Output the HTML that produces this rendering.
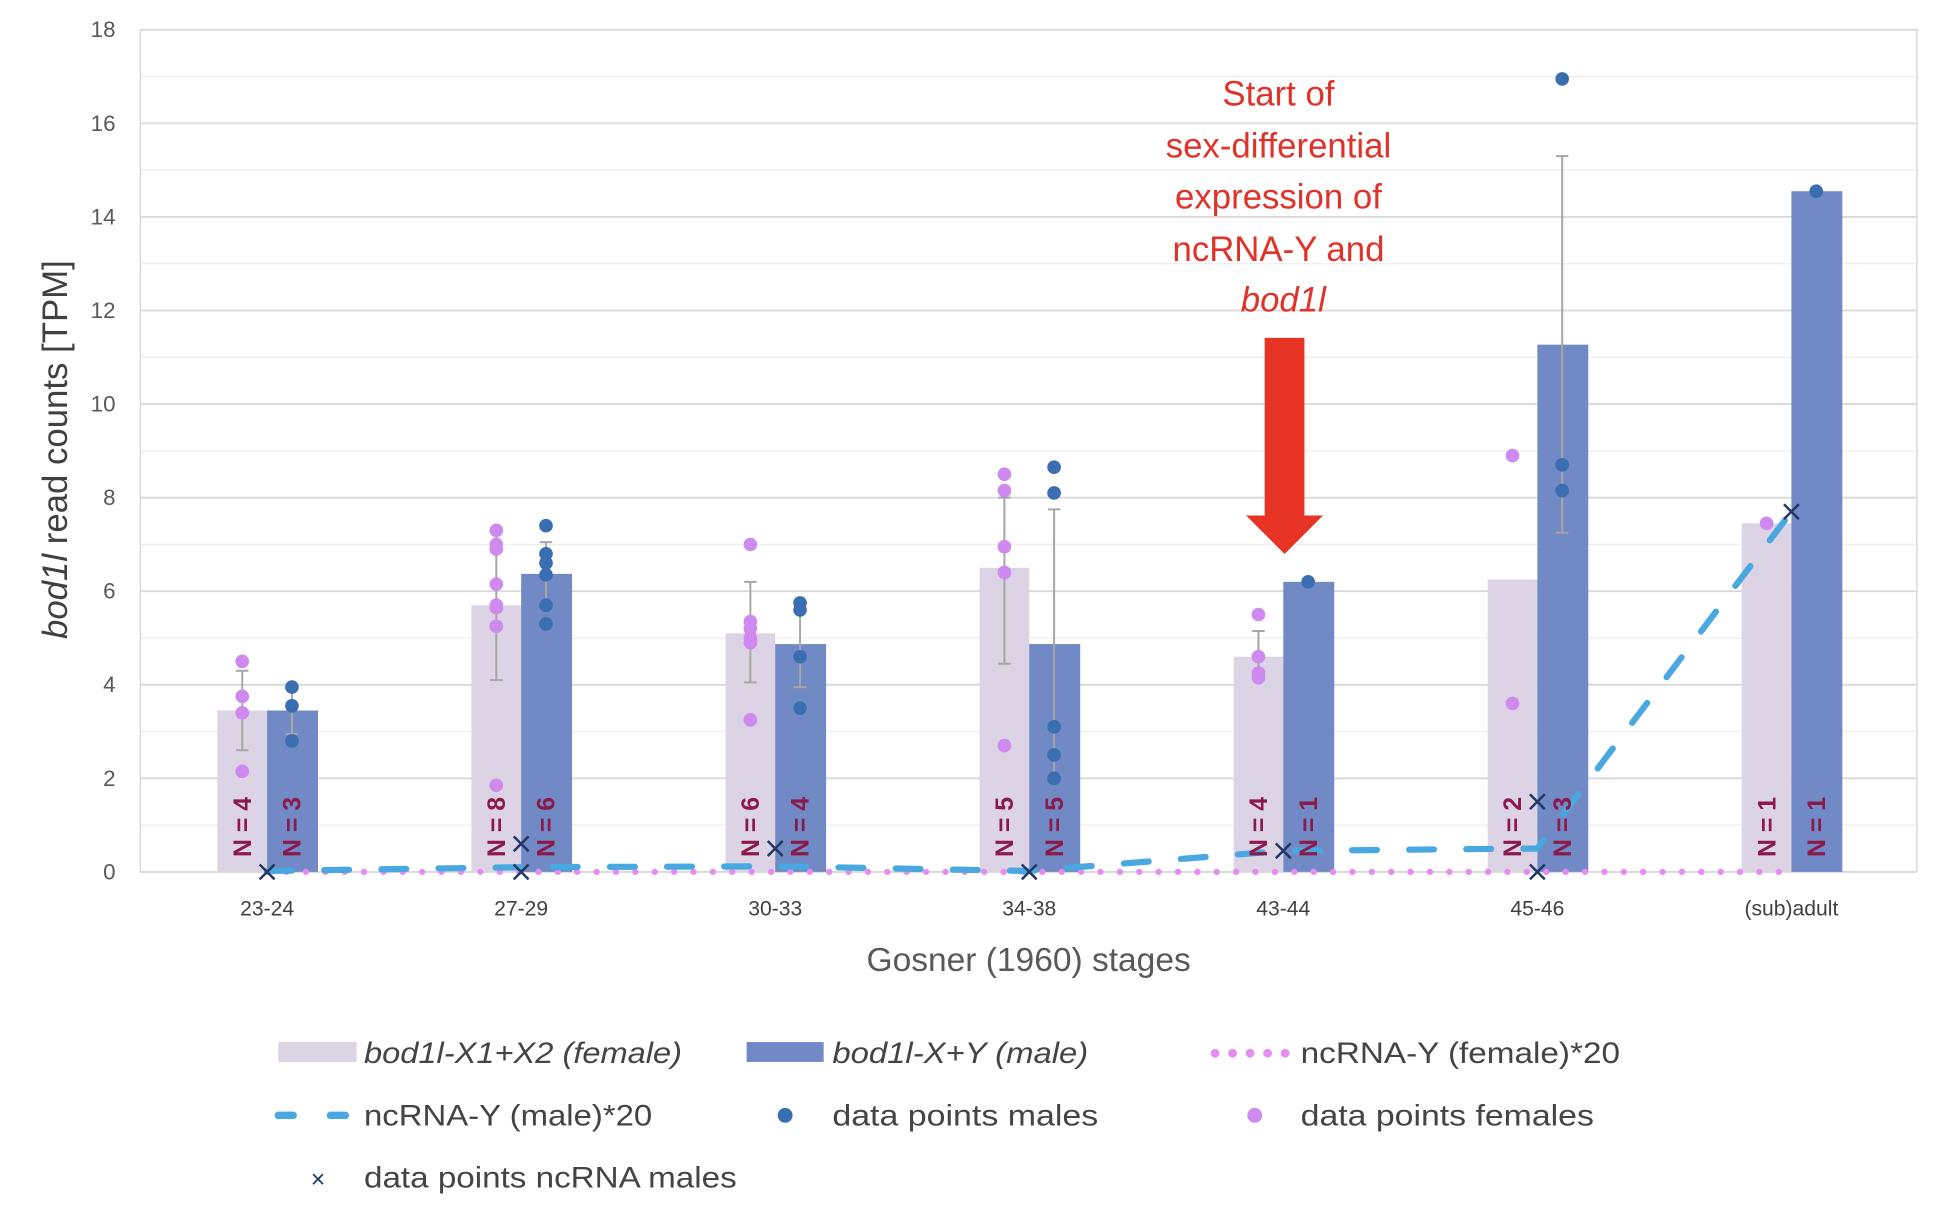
<!DOCTYPE html>
<html><head><meta charset="utf-8"><style>
html,body{margin:0;padding:0;background:#fff;}
svg{display:block;font-family:"Liberation Sans",sans-serif;}
</style></head><body>
<svg id="chart" width="1938" height="1206" viewBox="0 0 1560 971" preserveAspectRatio="none" xmlns="http://www.w3.org/2000/svg">
<g id="grid"></g>
<g id="bars"></g>
<g id="lines"></g>
<g id="pts"></g>
<g id="labels"></g>
<g id="annotation">
  <text x="1033" fill="#e03228" font-size="28" text-anchor="middle" font-family="Liberation Sans, sans-serif">
    <tspan x="1033" y="85">Start of</tspan>
    <tspan x="1033" y="127">sex-differential</tspan>
    <tspan x="1033" y="168">expression of</tspan>
    <tspan x="1033" y="210">ncRNA-Y and</tspan>
    <tspan x="1033" y="251" font-style="italic">bod1l</tspan>
  </text>
  <polygon fill="#e63323" points="1018,272 1050,272 1050,415 1065,415 1034,446 1003,415 1018,415"/>
</g>
<g id="legend">
  <g>
    <rect x="224" y="839" width="63" height="16" fill="#dcd3e5"/>
    <text x="293" y="856" font-size="24" font-style="italic" fill="#444" textLength="256" lengthAdjust="spacingAndGlyphs">bod1l-X1+X2 (female)</text>
  </g>
  <g>
    <rect x="601" y="839" width="62" height="16" fill="#7189c4"/>
    <text x="670" y="856" font-size="24" font-style="italic" fill="#444" textLength="206" lengthAdjust="spacingAndGlyphs">bod1l-X+Y (male)</text>
  </g>
  <g>
    <line x1="978" y1="848" x2="1035" y2="848" stroke="#e58cf0" stroke-width="7" stroke-linecap="round" stroke-dasharray="0.1 14"/>
    <text x="1047" y="856" font-size="24" fill="#444" textLength="257" lengthAdjust="spacingAndGlyphs">ncRNA-Y (female)*20</text>
  </g>
  <g>
    <line x1="224" y1="898" x2="288" y2="898" stroke="#4aa8e0" stroke-width="6" stroke-linecap="round" stroke-dasharray="12 30"/>
    <text x="293" y="906" font-size="24" fill="#444" textLength="232" lengthAdjust="spacingAndGlyphs">ncRNA-Y (male)*20</text>
  </g>
  <g>
    <circle cx="632" cy="898" r="6" fill="#3b6eb0"/>
    <text x="670" y="906" font-size="24" fill="#444" textLength="214" lengthAdjust="spacingAndGlyphs">data points males</text>
  </g>
  <g>
    <circle cx="1010" cy="898" r="6" fill="#cf8af0"/>
    <text x="1047" y="906" font-size="24" fill="#444" textLength="236" lengthAdjust="spacingAndGlyphs">data points females</text>
  </g>
  <g>
    <text x="256" y="956" font-size="20" fill="#1f3864" text-anchor="middle">×</text>
    <text x="293" y="956" font-size="24" fill="#444" textLength="300" lengthAdjust="spacingAndGlyphs">data points ncRNA males</text>
  </g>
</g>
</svg>
<script>
const categories = ["23-24","27-29","30-33","34-38","43-44","45-46","(sub)adult"];
const femaleMeans = [3.45,5.7,5.1,6.5,4.6,6.25,7.45];
const maleMeans = [3.45,6.37,4.87,4.87,6.2,11.27,14.55];
const femaleErrLow = [2.6,4.1,4.05,4.45,4.15,null,null];
const femaleErrHigh = [4.3,7.3,6.2,8.0,5.15,null,null];
const maleErrLow = [2.95,5.65,3.95,2.0,null,7.25,null];
const maleErrHigh = [3.95,7.05,5.75,7.75,null,15.3,null];
const femalePoints = [[4.5,3.75,3.4,2.15],[7.3,7.0,6.9,6.15,5.7,5.65,5.25,1.85],[7.0,5.35,5.2,5.0,4.9,3.25],[8.5,8.15,6.95,6.4,2.7],[5.5,4.6,4.25,4.15],[8.9,3.6],[7.45]];
const malePoints = [[3.95,3.55,2.8],[7.4,6.8,6.6,6.35,5.7,5.3],[5.75,5.6,4.6,3.5],[8.65,8.1,3.1,2.5,2.0],[6.2],[16.95,8.7,8.15],[14.55]];
const ncrnaMaleLine = [0.02,0.1,0.12,0.02,0.45,0.5,7.7];
const ncrnaFemaleLine = [0,0,0,0,0,0,0];
const ncrnaPoints = [[0],[0.6,0],[0.5],[0],[0.45],[1.5,0],[7.7]];
const femaleN = [4,8,6,5,4,2,1];
const maleN = [3,6,4,5,1,3,1];
const yTicks = [0,2,4,6,8,10,12,14,16,18];

const NS="http://www.w3.org/2000/svg";
const X0=113, X1=1543, Y0=702, YT=24, YMAX=18;
const y = v => Y0 - (Y0-YT)*v/YMAX;
const xc = i => 215 + i*204.5;
function mk(tag, attrs, parent){const e=document.createElementNS(NS,tag);for(const k in attrs)e.setAttribute(k,attrs[k]);parent.appendChild(e);return e;}
const grid=document.getElementById('grid'),bars=document.getElementById('bars'),lines=document.getElementById('lines'),pts=document.getElementById('pts'),labels=document.getElementById('labels');

// plot border
let b=mk('rect',{x:X0,y:YT,width:X1-X0,height:Y0-YT,fill:'none',stroke:'#d9d9d9','stroke-width':1.2},grid);


for(let v=1;v<YMAX;v+=2){const l=mk('line',{x1:X0,x2:X1,y1:y(v),y2:y(v),stroke:'#ededed','stroke-width':1},grid);

}
yTicks.forEach(v=>{const l=mk('line',{x1:X0,x2:X1,y1:y(v),y2:y(v),stroke:'#d9d9d9','stroke-width':1.5},grid);


const t=mk('text',{x:93,y:y(v)+6,'text-anchor':'end','font-size':18,fill:'#595959'},labels);t.textContent=v;

});

categories.forEach((c,i)=>{
  const cx=xc(i);
  const fb=mk('rect',{x:cx-40,y:y(femaleMeans[i]),width:40,height:Y0-y(femaleMeans[i]),fill:'#dcd3e5'},bars);
  
  
  const mb=mk('rect',{x:cx,y:y(maleMeans[i]),width:41,height:Y0-y(maleMeans[i]),fill:'#7189c4'},bars);
  
  
  const t=mk('text',{x:xc(i),y:731+6,'text-anchor':'middle','font-size':17,fill:'#404040'},labels);t.textContent=c;
  
  
  [[femaleErrLow,femaleErrHigh,cx-20],[maleErrLow,maleErrHigh,cx+20]].forEach(([lo,hi,ex])=>{
    if(lo[i]==null)return;
    const g=mk('path',{d:`M${ex},${y(lo[i])}V${y(hi[i])}M${ex-5},${y(lo[i])}h10M${ex-5},${y(hi[i])}h10`,stroke:'#a6a6a6','stroke-width':1.6,fill:'none'},bars);
    
    
  });
  [[femaleN[i],cx-20],[maleN[i],cx+20]].forEach(([n,nx])=>{
    const t=mk('text',{x:0,y:0,transform:`translate(${nx+7},690) rotate(-90)`,'font-size':20,'font-weight':'bold',fill:'#8b1a4a'},labels);
    t.textContent='N = '+n;
    
    
  });
});

// ncRNA female dotted line
let fl=mk('polyline',{points:ncrnaFemaleLine.map((v,i)=>xc(i)+','+y(v)).join(' '),fill:'none',stroke:'#e58cf0','stroke-width':5,'stroke-linecap':'round','stroke-dasharray':'0.1 15.5'},lines);


let ml=mk('polyline',{points:ncrnaMaleLine.map((v,i)=>xc(i)+','+y(v)).join(' '),fill:'none',stroke:'#4aa8e0','stroke-width':5,'stroke-linecap':'round','stroke-dasharray':'20 26'},lines);



categories.forEach((c,i)=>{
  femalePoints[i].forEach(v=>{const p=mk('circle',{cx:xc(i)-20,cy:y(v),r:5.5,fill:'#cf8af0'},pts);
  
  });
  malePoints[i].forEach(v=>{const p=mk('circle',{cx:xc(i)+20,cy:y(v),r:5.5,fill:'#3b6eb0'},pts);
  
  });
  ncrnaPoints[i].forEach(v=>{const px=xc(i),py=y(v);
  const p=mk('path',{d:`M${px-6},${py-6}L${px+6},${py+6}M${px-6},${py+6}L${px+6},${py-6}`,stroke:'#1f3864','stroke-width':2},pts);
  
  });
});

let xt=mk('text',{x:828,y:782,'text-anchor':'middle','font-size':27,fill:'#595959'},labels);xt.textContent='Gosner (1960) stages';


let yt=mk('text',{x:0,y:0,transform:'translate(54,362) rotate(-90)','text-anchor':'middle','font-size':28,fill:'#404040'},labels);
yt.innerHTML='<tspan font-style="italic">bod1l</tspan> read counts [TPM]';


</script>
</body></html>
